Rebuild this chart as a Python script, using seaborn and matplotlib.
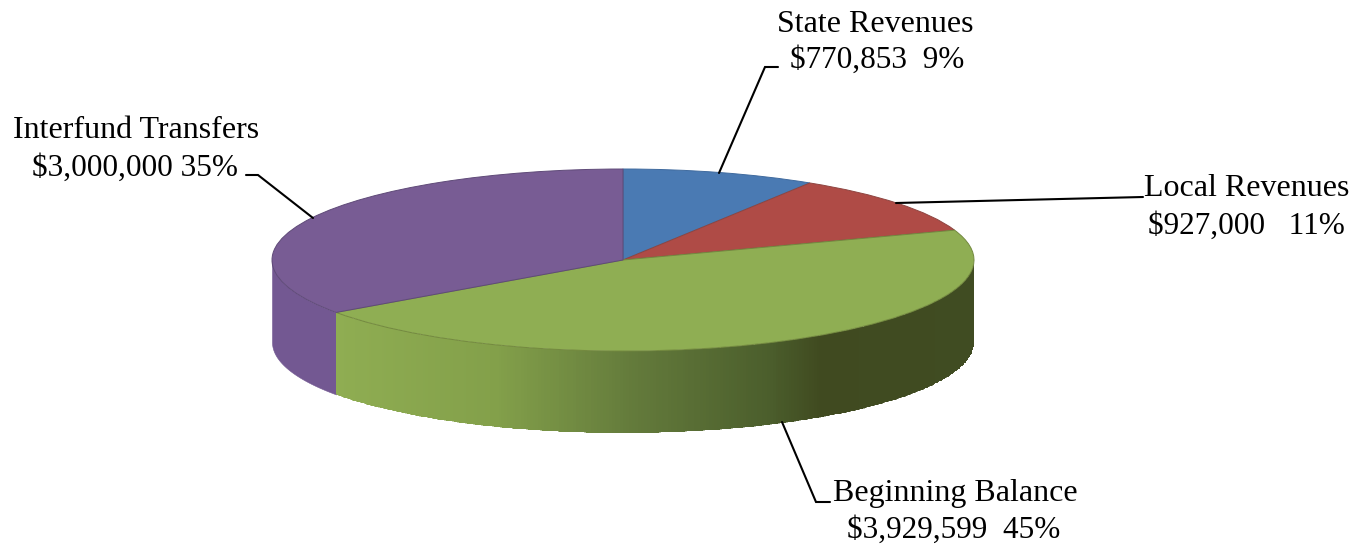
import numpy as np
import matplotlib
matplotlib.use('Agg')
import matplotlib.pyplot as plt
import seaborn as sns
from matplotlib.colors import LinearSegmentedColormap
from matplotlib.patches import Polygon

categories = ['State Revenues', 'Local Revenues', 'Beginning Balance', 'Interfund Transfers']
values = [770853, 927000, 3929599, 3000000]
amount_labels = ['$770,853  9%', '$927,000   11%', '$3,929,599  45%', '$3,000,000 35%']
colors = ['#4A7AB3', '#AF4B46', '#8FAE53', '#785C94']
edge_colors = ['#3F6A9E', '#8E4541', '#73893F', '#5F4A78']

# pie geometry in pixels of the 1356x546 canvas
W, H = 1356, 546
CX, CY, RX, RY, DEPTH = 623, 260, 351, 91, 82

sns.set_theme(style='white')
plt.rcParams['font.family'] = ['Liberation Serif', 'DejaVu Serif']

fig = plt.figure(figsize=(W / 100, H / 100), dpi=100)
ax = fig.add_axes([0, 0, 1, 1])

# 1. Top face: a normal pie, squashed by the axis limits
wedges, _ = ax.pie(values, colors=colors, startangle=90, counterclock=False, radius=1,
                   wedgeprops={'linewidth': 0.7, 'zorder': 5})
for wedge, ec in zip(wedges, edge_colors):
    wedge.set_edgecolor(ec)
ax.set_aspect('auto')
ax.set_xlim(-CX / RX, (W - CX) / RX)
ax.set_ylim(-(H - CY) / RY, CY / RY)

# 2. Side wall, from the same cumulative shares
edges = 360 * np.cumsum(values) / np.sum(values)
depth = DEPTH / RY

# green wall, shaded from left to right
green_cmap = LinearSegmentedColormap.from_list('wall', [
    (0.00, '#8FAD52'), (0.25, '#83A04A'), (0.47, '#637A3B'),
    (0.68, '#4B5E2C'), (0.76, '#404A20'), (1.00, '#404C22')])
t = np.radians(np.linspace(90, edges[2], 300))
xs = np.sin(t)
X = np.vstack([xs, xs])
Y = np.vstack([np.cos(t) + 0.02, np.cos(t) - depth - 0.02])
mesh = ax.pcolormesh(X, Y, X[:-1, :-1], cmap=green_cmap, shading='flat', zorder=2,
                     vmin=xs.min(), vmax=xs.max(), edgecolors='face', linewidth=0.3)

# clip the strips so the rim stays smooth
outline = np.column_stack([np.r_[xs, xs[::-1]],
                           np.r_[np.cos(t), np.cos(t)[::-1] - depth]])
clip = Polygon(outline, closed=True, transform=ax.transData, facecolor='none', edgecolor='none')
ax.add_patch(clip)
mesh.set_clip_path(clip)

# purple wall
t = np.radians(np.linspace(edges[2], 270, 60))
ax.fill_between(np.sin(t), np.cos(t) - depth, np.cos(t), color='#735892',
                linewidth=0.4, zorder=1)

# 3. Leader lines and labels on a pixel overlay
ov = fig.add_axes([0, 0, 1, 1])
ov.set_xlim(0, W)
ov.set_ylim(H, 0)
ov.axis('off')
ov.patch.set_alpha(0)

leaders = [
    ([719, 765, 778], [173, 67, 67]),
    ([896, 1143], [203, 197]),
    ([782, 816, 830], [422, 502, 502]),
    ([313, 258, 246], [218, 175, 175]),
]
for lx, ly in leaders:
    ov.plot(lx, ly, color='black', linewidth=1.5, solid_joinstyle='miter')

name_pos = [(875, 24), (1247, 189), (955, 494), (136, 131)]
amount_pos = [(877, 60), (1246, 226), (954, 530), (135, 168)]
for name, amount, p1, p2 in zip(categories, amount_labels, name_pos, amount_pos):
    ov.text(p1[0], p1[1], name, ha='center', va='center', fontsize=23, color='black')
    ov.text(p2[0], p2[1], amount, ha='center', va='center', fontsize=22.5, color='black')

fig.savefig('out.png', dpi=100, facecolor='white')
